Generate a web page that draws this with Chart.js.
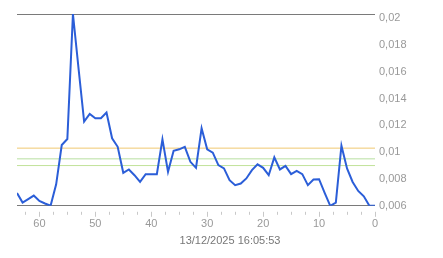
<!DOCTYPE html>
<html>
<head>
<meta charset="utf-8">
<script src="https://cdn.jsdelivr.net/npm/chart.js@4/dist/chart.umd.min.js"></script>
<style>
  html, body { margin: 0; padding: 0; background: #fff; }
  #wrap { width: 443px; height: 258px; }
</style>
</head>
<body>
<div id="wrap"><canvas id="chart"></canvas></div>
<script>
// minutes ago (64 -> 0) and the measured values
const minutesAgo = [64, 63, 62, 61, 60, 59, 58, 57, 56, 55, 54, 53, 52, 51, 50, 49, 48, 47, 46, 45,
  44, 43, 42, 41, 40, 39, 38, 37, 36, 35, 34, 33, 32, 31, 30, 29, 28, 27, 26, 25,
  24, 23, 22, 21, 20, 19, 18, 17, 16, 15, 14, 13, 12, 11, 10, 9, 8, 7, 6, 5,
  4, 3, 2, 1, 0];
const values = [0.00696, 0.00624, 0.0065, 0.00676, 0.00636, 0.00617, 0.006, 0.0076, 0.01053, 0.01098,
  0.0203, 0.01625, 0.01228, 0.01285, 0.01253, 0.01253, 0.01295, 0.01103, 0.0104, 0.00846,
  0.00871, 0.00828, 0.00778, 0.00836, 0.00836, 0.00836, 0.01096, 0.00853, 0.0101, 0.01021,
  0.0104, 0.00928, 0.00883, 0.01178, 0.01021, 0.00996, 0.00903, 0.00879, 0.00791, 0.00754,
  0.00766, 0.00804, 0.00866, 0.00909, 0.00883, 0.00828, 0.00961, 0.00871, 0.00898, 0.00836,
  0.00861, 0.00836, 0.00754, 0.00796, 0.00798, 0.00696, 0.006, 0.00624, 0.01048, 0.00879,
  0.00778, 0.00711, 0.00671, 0.006, 0.006];

// horizontal reference levels
const thresholds = [0.0103, 0.0095, 0.009];
const thresholdColors = ['#f0c870', '#b8dfa0', '#c2e29a'];

const yTicks = [0.006, 0.008, 0.01, 0.012, 0.014, 0.016, 0.018, 0.02];
const yTickLabels = ['0,006', '0,008', '0,01', '0,012', '0,014', '0,016', '0,018', '0,02'];
const yMax = 0.0203;

const xMajor = [0, 10, 20, 30, 40, 50, 60];
const xMinor = [2.5, 5, 7.5, 12.5, 15, 17.5, 22.5, 25, 27.5, 32.5, 35, 37.5, 42.5, 45, 47.5, 52.5, 55, 57.5, 62.5];

const title = '13/12/2025 16:05:53';
const font = "'Liberation Sans', Arial, sans-serif";

// small tick marks under the baseline, a little detached like the original
const tickMarks = {
  id: 'tickMarks',
  afterDraw(chart) {
    const ctx = chart.ctx;
    const x = chart.scales.x;
    const base = chart.chartArea.bottom;
    ctx.save();
    ctx.strokeStyle = '#c8c8c8';
    ctx.lineWidth = 1;
    ctx.beginPath();
    xMinor.forEach(v => {
      const px = Math.round(x.getPixelForValue(v)) + 0.5;
      ctx.moveTo(px, base + 6);
      ctx.lineTo(px, base + 9);
    });
    xMajor.forEach(v => {
      const px = Math.round(x.getPixelForValue(v)) + 0.5;
      ctx.moveTo(px, base + 6);
      ctx.lineTo(px, base + 11);
    });
    ctx.stroke();
    ctx.restore();
  }
};

const datasets = thresholds.map((v, i) => ({
  data: [{x: 64, y: v}, {x: 0, y: v}],
  borderColor: thresholdColors[i],
  borderWidth: 1,
  pointRadius: 0,
  order: 2
}));
datasets.push({
  data: minutesAgo.map((m, i) => ({x: m, y: values[i]})),
  borderColor: '#2b5ed8',
  borderWidth: 2,
  pointRadius: 0,
  tension: 0,
  order: 1
});

new Chart(document.getElementById('chart'), {
  type: 'line',
  data: {datasets},
  plugins: [tickMarks],
  options: {
    responsive: true,
    maintainAspectRatio: false,
    animation: false,
    layout: {padding: {left: 17, top: 14, right: 0, bottom: 0}},
    plugins: {
      legend: {display: false},
      tooltip: {enabled: false},
      title: {
        display: true,
        text: title,
        position: 'bottom',
        color: '#777',
        font: {family: font, size: 11, weight: 'normal'},
        padding: {top: 2, bottom: 10}
      }
    },
    scales: {
      x: {
        type: 'linear',
        reverse: true,
        min: 0,
        max: 64,
        afterBuildTicks: s => { s.ticks = xMajor.concat(xMinor).sort((a, b) => a - b).map(v => ({value: v})); },
        afterFit: s => { s.height = 27; },
        ticks: {
          autoSkip: false,
          maxRotation: 0,
          padding: 4,
          color: '#999',
          font: {family: font, size: 11},
          callback: v => xMajor.includes(v) ? String(v) : ''
        },
        grid: {display: false},
        border: {display: false}
      },
      y: {
        position: 'right',
        min: 0.006,
        max: yMax,
        afterBuildTicks: s => { s.ticks = yTicks.concat([yMax]).map(v => ({value: v})); },
        afterFit: s => { s.width = 68; },
        ticks: {
          crossAlign: 'near',
          padding: 4,
          color: '#999',
          font: {family: font, size: 11},
          callback: v => {
            const i = yTicks.indexOf(v);
            return i >= 0 ? yTickLabels[i] : '';
          }
        },
        grid: {
          drawTicks: false,
          color: c => (c.tick && (c.tick.value === 0.006 || c.tick.value === yMax)) ? '#7a7a7a' : 'rgba(0,0,0,0)',
          lineWidth: 1
        },
        border: {display: false}
      }
    }
  }
});
</script>
</body>
</html>
